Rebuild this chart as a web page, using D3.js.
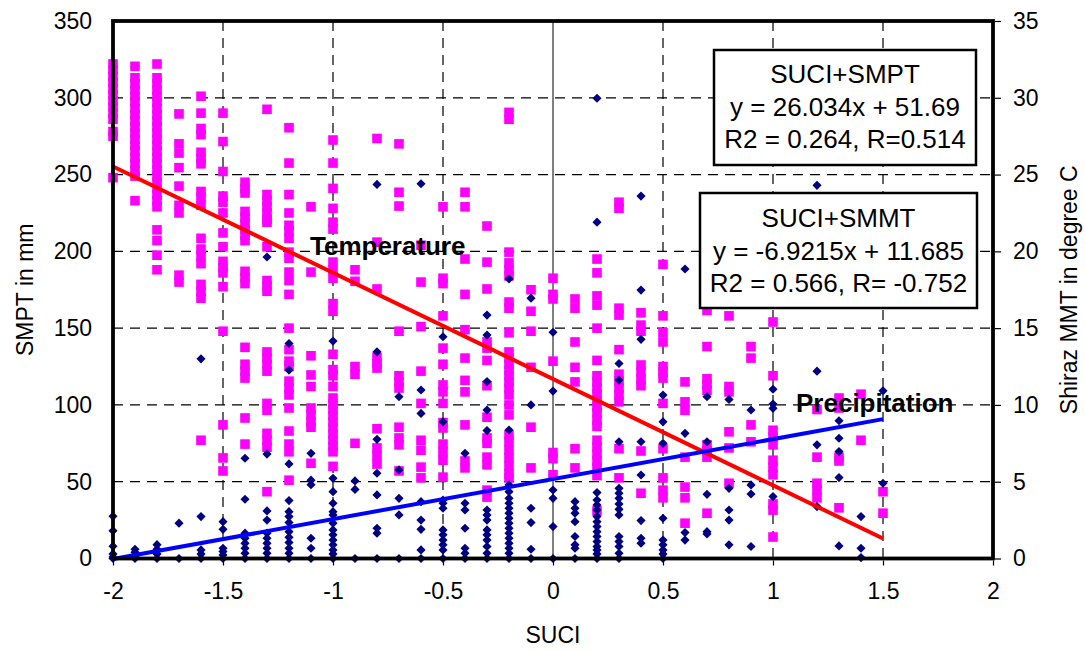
<!DOCTYPE html>
<html>
<head>
<meta charset="utf-8">
<script src="https://cdn.jsdelivr.net/npm/d3@7"></script>
<style>
body { margin: 0; background: #fff; }
svg { font-family: "Liberation Sans", Arial, sans-serif; }
</style>
</head>
<body>
<svg id="chart" width="1085" height="650"></svg>
<script>
// SUCI steps (x) and the values read for each step
var suciSteps = [-2, -1.9, -1.8, -1.7, -1.6, -1.5, -1.4, -1.3, -1.2, -1.1, -1, -0.9, -0.8, -0.7, -0.6, -0.5, -0.4, -0.3, -0.2, -0.1,
    0, 0.1, 0.2, 0.3, 0.4, 0.5, 0.6, 0.7, 0.8, 0.9, 1, 1.1, 1.2, 1.3, 1.4, 1.5];

// Shiraz mean monthly temperature, degree C (right axis)
var tempValues = [
    [32.2, 31.8, 31.4, 31.0, 30.6, 30.2, 29.8, 29.4, 29.0, 28.6, 27.8, 27.5, 24.8],
    [32.05, 31.3, 30.9, 30.5, 30.1, 29.7, 29.3, 28.9, 28.5, 28.1, 27.7, 27.3, 26.9, 26.5, 26.1, 25.7, 25.3, 24.9, 23.3],
    [32.2, 31.3, 30.9, 30.5, 30.1, 29.7, 29.3, 28.9, 28.5, 28.1, 27.7, 27.3, 26.9, 26.5, 26.1, 25.7, 25.3, 24.9, 24.5, 24.1, 23.7, 23.3, 22.9, 21.4, 20.7, 19.75, 18.8],
    [28.95, 27.0, 26.4, 25.45, 24.25, 23.0, 22.5, 18.45, 18.0],
    [30.1, 29.0, 28.0, 27.6, 26.45, 26.05, 25.7, 23.9, 23.5, 23.0, 20.85, 20.15, 19.7, 19.2, 17.85, 17.4, 16.95, 7.7],
    [29.0, 27.15, 25.2, 23.6, 23.2, 22.5, 21.2, 20.3, 19.35, 18.95, 18.6, 17.7, 14.8, 8.7, 6.55, 5.7],
    [24.5, 24.1, 23.8, 22.6, 22.2, 21.8, 21.45, 21.05, 20.7, 18.7, 18.3, 17.9, 13.75, 12.65, 12.2, 11.75, 9.15, 7.45],
    [29.25, 23.7, 23.3, 22.9, 22.5, 22.1, 21.9, 20.3, 18.1, 17.75, 17.4, 13.45, 13.05, 12.65, 12.2, 10.1, 9.65, 8.15, 7.7, 7.25, 4.35],
    [28.05, 25.75, 23.7, 22.5, 21.7, 21.3, 20.85, 19.95, 19.55, 18.65, 18.1, 17.2, 15.0, 13.6, 12.85, 12.5, 11.55, 11.1, 10.65, 9.8, 8.3, 7.45, 6.95, 5.1],
    [22.9, 18.65, 13.2, 11.95, 11.2, 9.8, 9.35, 8.9, 8.55, 6.2],
    [27.25, 25.75, 24.1, 22.8, 21.9, 21.45, 19.3, 18.8, 18.25, 16.6, 16.1, 13.3, 12.3, 11.9, 11.2, 10.45, 10.05, 9.7, 9.3, 8.9, 8.5, 8.1, 7.7, 7.3, 6.95, 6.0],
    [18.8, 18.05, 12.5, 12.0, 7.5],
    [27.35, 20.6, 17.55, 13.1, 12.7, 12.4, 8.45, 7.2, 6.7, 6.15],
    [27.0, 23.85, 22.95, 14.8, 11.9, 11.5, 11.1, 8.55, 7.85, 7.4, 5.7],
    [20.4, 18.0, 15.1, 12.2, 10.1, 7.7, 7.05, 5.95, 5.25],
    [22.9, 18.25, 17.9, 15.8, 13.7, 12.65, 11.3, 10.85, 10.1, 8.85, 8.5, 7.45, 6.95, 6.4, 5.3],
    [23.85, 22.9, 19.5, 17.2, 14.9, 13.05, 11.6, 10.85, 8.7, 6.35, 5.9],
    [21.65, 19.3, 17.55, 14.1, 13.7, 12.9, 11.25, 9.2, 7.85, 7.5, 6.6, 6.1, 4.45, 4.0],
    [29.05, 28.6, 19.95, 19.25, 18.8, 18.4, 16.7, 16.3, 14.7, 13.45, 13.05, 12.65, 12.25, 11.9, 11.5, 11.1, 10.65, 10.0, 9.35, 8.05, 7.6, 7.05, 6.55, 6.0, 5.5, 5.25],
    [17.5, 16.1, 14.8, 12.45, 8.55, 5.9],
    [18.25, 17.2, 16.9, 12.85, 6.9, 6.5, 5.45],
    [16.9, 16.3, 14.1, 12.45, 11.5, 7.15, 5.9],
    [19.5, 18.6, 17.1, 16.5, 15.0, 12.9, 11.9, 11.5, 11.1, 10.7, 10.3, 9.9, 9.5, 9.0, 8.6, 7.7, 7.25, 6.8, 6.35, 5.9, 5.4, 3.1],
    [23.2, 22.8, 16.3, 15.85, 13.6, 12.0, 11.55, 11.1, 10.65, 10.2, 7.15, 5.25],
    [16.0, 15.2, 14.8, 12.6, 12.15, 11.65, 11.25, 7.0, 4.25],
    [19.15, 15.8, 14.7, 14.1, 12.5, 12.15, 11.75, 10.1, 7.15, 5.25, 4.45, 3.95],
    [11.5, 10.2, 9.65, 6.6, 4.65, 3.95, 2.3],
    [16.15, 13.8, 11.7, 11.35, 10.95, 7.4, 7.0, 6.6, 2.95],
    [15.8, 11.2, 10.85, 8.25, 7.2, 4.9],
    [13.8, 13.05, 8.7, 7.6],
    [15.4, 11.9, 8.35, 7.9, 7.4, 6.4, 5.95, 5.45, 3.55, 3.15, 1.4],
    [],
    [9.7, 6.6, 4.9, 4.45, 3.95],
    [10.45, 9.8, 6.6, 6.35, 3.3],
    [10.7, 7.7],
    [4.35, 2.95]
];

// Shiraz monthly precipitation, mm (left axis)
var precipValues = [
    [27.5, 18, 8, 3, 1, 0],
    [6, 4, 1, 0],
    [9, 6, 3, 0],
    [23, 0],
    [130, 27.3, 5.6, 3, 0],
    [24, 19, 6.7, 4.5, 2.3, 0],
    [65.3, 38.6, 16.5, 13.2, 9.9, 6.7, 3.4, 0],
    [196.3, 68, 31, 25, 16.5, 13.2, 9.9, 6.7, 3.4, 0],
    [140, 122.7, 61.6, 37.7, 30.5, 27.3, 23.4, 17.5, 13.8, 10.4, 6.7, 3.4, 0],
    [68.5, 51, 48, 13.2, 6.7, 0],
    [141.6, 52.2, 43.5, 36, 30.5, 28.4, 23, 18.6, 15.4, 12, 8.9, 5.6, 3, 0],
    [50.5, 45, 0],
    [243.6, 134.6, 77.6, 55.5, 41.4, 19.7, 16.5, 0],
    [105.4, 57.7, 39.2, 28.4, 0],
    [244, 109.7, 94.5, 37, 25, 19, 5.6, 0],
    [144.4, 89, 38.1, 36, 32.7, 18.6, 15.4, 12, 8.9, 5.6, 0],
    [68.5, 36, 31.6, 19.7, 6.7, 3.4, 0],
    [158.5, 145.5, 115.2, 96.7, 83.3, 31.6, 28.4, 25, 18.6, 15.4, 12, 7.8, 3.4, 0],
    [182, 83.7, 48, 43.5, 39.2, 36, 32.7, 29.5, 26.2, 23, 19.7, 16.5, 13.2, 9.9, 6.7, 3.4, 0],
    [169.5, 100, 32.7, 23.4, 6, 0],
    [147.3, 109, 44.6, 39.2, 20.8, 0],
    [37, 32.7, 29.5, 24, 14.3, 8.9, 6.7, 0],
    [299.7, 219, 42.9, 38.1, 34.9, 31.6, 27.3, 24, 20.8, 17.5, 14.3, 11, 7.8, 5.6, 3, 0],
    [127, 116.2, 76, 45.7, 42.5, 39.2, 35.5, 32, 28.4, 14.3, 11, 7.8, 3.4, 0],
    [236, 174.8, 142.7, 76, 54.4, 24.7, 13.2, 10],
    [106.4, 89, 75, 26.2, 12, 8.9, 5.6, 3, 0],
    [188.5, 81.5, 16.9, 12],
    [105.4, 76, 41.8, 17.5, 16],
    [103.6, 45.7, 31.6, 25, 8.9],
    [96.7, 47.9, 42, 7.8],
    [110.2, 100.6, 97.8, 40.3],
    [],
    [243, 122, 74, 33.8],
    [89.7, 78.3, 69.6, 52.7, 8.2],
    [27.3, 6.7, 0.6],
    [109.2, 49]
];

var xTicks = [-2, -1.5, -1, -0.5, 0, 0.5, 1, 1.5, 2];
var leftTicks = [0, 50, 100, 150, 200, 250, 300, 350];
var rightTicks = [0, 5, 10, 15, 20, 25, 30, 35];

// linear fits shown in the boxes
var tempFit = { slope: -6.9215, intercept: 11.685 };
var precipFit = { slope: 26.034, intercept: 51.69 };
var fitRange = [-2, 1.5];

var precipBoxLines = ["SUCI+SMPT", "y = 26.034x + 51.69", "R2 = 0.264, R=0.514"];
var tempBoxLines = ["SUCI+SMMT", "y = -6.9215x + 11.685", "R2 = 0.566, R= -0.752"];

var svg = d3.select("#chart");
var plotL = 113, plotR = 993, plotT = 21, plotB = 558.5;

var x = d3.scaleLinear().domain([-2, 2]).range([plotL, plotR]);
var yL = d3.scaleLinear().domain([0, 350]).range([plotB, plotT]);
var yR = d3.scaleLinear().domain([0, 35]).range([plotB, plotT]);

svg.append("rect").attr("width", 1085).attr("height", 650).attr("fill", "#fff");

// grid
var grid = svg.append("g");
grid.selectAll(".hgrid")
    .data(leftTicks.filter(function(d) { return d > 0 && d < 350; }))
    .enter().append("line")
    .attr("x1", plotL).attr("x2", plotR)
    .attr("y1", function(d) { return yL(d); })
    .attr("y2", function(d) { return yL(d); })
    .attr("stroke", "#000").attr("stroke-width", 1.2)
    .attr("stroke-dasharray", "10,7");

grid.selectAll(".vgrid")
    .data(xTicks.filter(function(d) { return d != 0 && Math.abs(d) < 2; }))
    .enter().append("line")
    .attr("x1", function(d) { return x(d); })
    .attr("x2", function(d) { return x(d); })
    .attr("y1", plotT).attr("y2", plotB)
    .attr("stroke", "#000").attr("stroke-width", 1.2)
    .attr("stroke-dasharray", "10,7");

grid.append("line")
    .attr("x1", x(0)).attr("x2", x(0))
    .attr("y1", plotT).attr("y2", plotB)
    .attr("stroke", "#808080").attr("stroke-width", 2);

// points
var tempPoints = [], precipPoints = [];
suciSteps.forEach(function(s, i) {
    tempValues[i].forEach(function(v) { tempPoints.push({ suci: s, value: v }); });
    precipValues[i].forEach(function(v) { precipPoints.push({ suci: s, value: v }); });
});

svg.append("g").selectAll("rect")
    .data(tempPoints)
    .enter().append("rect")
    .attr("x", function(d) { return x(d.suci) - 4.8; })
    .attr("y", function(d) { return yR(d.value) - 4.8; })
    .attr("width", 9.6).attr("height", 9.6)
    .attr("fill", "#ff00ff");

var diamond = d3.symbol().type(d3.symbolSquare).size(42);
svg.append("g").selectAll("path")
    .data(precipPoints)
    .enter().append("path")
    .attr("d", diamond)
    .attr("transform", function(d) { return "translate(" + x(d.suci) + "," + yL(d.value) + ") rotate(45)"; })
    .attr("fill", "#000080");

// trend lines
var tempLine = d3.line()
    .x(function(d) { return x(d); })
    .y(function(d) { return yR(tempFit.slope * d + tempFit.intercept); });
var precipLine = d3.line()
    .x(function(d) { return x(d); })
    .y(function(d) { return yL(precipFit.slope * d + precipFit.intercept); });

svg.append("path").attr("d", tempLine(fitRange))
    .attr("fill", "none").attr("stroke", "#ff0000").attr("stroke-width", 4);
svg.append("path").attr("d", precipLine(fitRange))
    .attr("fill", "none").attr("stroke", "#0000ff").attr("stroke-width", 4);

// frame
svg.append("rect")
    .attr("x", plotL).attr("y", plotT)
    .attr("width", plotR - plotL).attr("height", plotB - plotT)
    .attr("fill", "none").attr("stroke", "#000").attr("stroke-width", 3.8);

// axes
var plainFmt = function(d) { return String(d); };
var xAxis = svg.append("g")
    .attr("transform", "translate(0," + plotB + ")")
    .call(d3.axisBottom(x).tickValues(xTicks).tickSize(7).tickPadding(17).tickFormat(plainFmt));
var lAxis = svg.append("g")
    .attr("transform", "translate(" + plotL + ",0)")
    .call(d3.axisLeft(yL).tickValues(leftTicks).tickSize(0).tickPadding(21).tickFormat(plainFmt));
var rAxis = svg.append("g")
    .attr("transform", "translate(" + plotR + ",0)")
    .call(d3.axisRight(yR).tickValues(rightTicks).tickSize(8).tickPadding(12).tickFormat(plainFmt));

[xAxis, lAxis, rAxis].forEach(function(a) {
    a.select(".domain").remove();
    a.selectAll(".tick line").attr("stroke", "#000").attr("stroke-width", 1.2);
    a.selectAll("text").attr("font-family", "Liberation Sans, Arial, sans-serif")
        .attr("font-size", 23).attr("fill", "#000");
});
xAxis.selectAll(".tick line").attr("y1", 2);
rAxis.selectAll(".tick line").attr("x1", 2);

// axis titles
svg.append("text").attr("x", (plotL + plotR) / 2).attr("y", 643)
    .attr("text-anchor", "middle").attr("font-size", 23).text("SUCI");
svg.append("text")
    .attr("transform", "translate(33," + (plotT + plotB) / 2 + ") rotate(-90)")
    .attr("text-anchor", "middle").attr("font-size", 23).text("SMPT in mm");
svg.append("text")
    .attr("transform", "translate(1077," + (plotT + plotB) / 2 + ") rotate(-90)")
    .attr("text-anchor", "middle").attr("font-size", 23).text("Shiraz MMT in degree C");

// series labels
svg.append("text").attr("x", 310).attr("y", 255)
    .attr("font-size", 26).attr("font-weight", "bold").text("Temperature");
svg.append("text").attr("x", 796).attr("y", 412)
    .attr("font-size", 26).attr("font-weight", "bold").text("Precipitation");

// equation boxes
function eqBox(lines, bx, by, bw, bh, baselines) {
    var g = svg.append("g");
    g.append("rect").attr("x", bx).attr("y", by).attr("width", bw).attr("height", bh)
        .attr("fill", "#fff").attr("stroke", "#000").attr("stroke-width", 2.5);
    g.selectAll("text").data(lines).enter().append("text")
        .attr("x", bx + bw / 2)
        .attr("y", function(d, i) { return baselines[i]; })
        .attr("text-anchor", "middle").attr("font-size", 26)
        .text(function(d) { return d; });
}
eqBox(precipBoxLines, 714, 50, 262, 115, [83, 116, 148]);
eqBox(tempBoxLines, 700, 193, 277, 115, [227, 260, 292]);
</script>
</body>
</html>
